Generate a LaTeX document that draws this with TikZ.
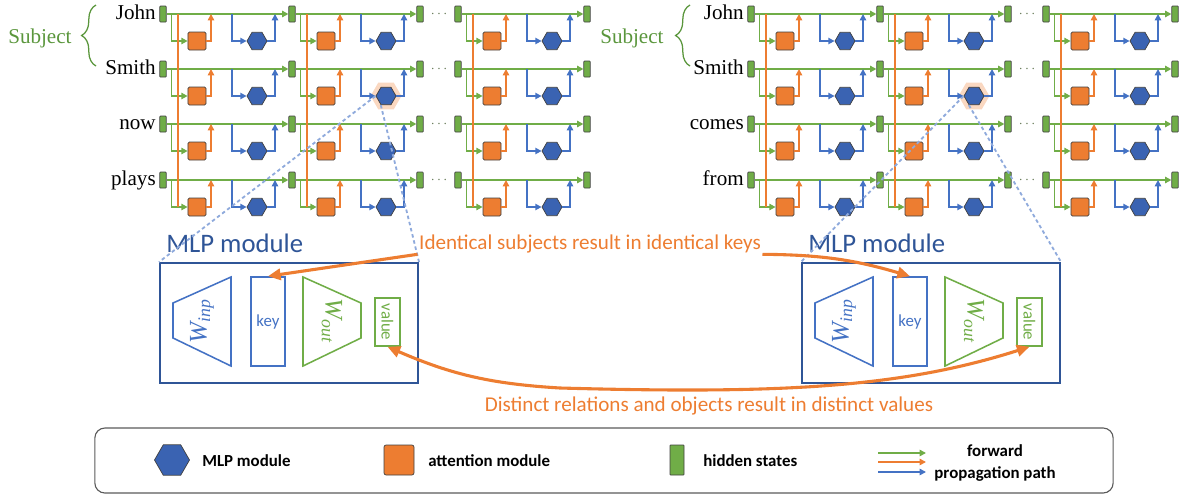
\documentclass[tikz,border=0pt]{standalone}
\usepackage{fontspec}
\setmainfont{Liberation Serif}
\newfontfamily\calibri{Carlito}
\usepackage{tikz}
\usetikzlibrary{arrows.meta}
\usetikzlibrary{calc}
\usetikzlibrary{shapes.geometric}
\usetikzlibrary{decorations.pathreplacing}
\usepackage{xcolor}
\definecolor{ColGreen}{RGB}{112,173,71}
\definecolor{ColOrange}{RGB}{237,125,49}
\definecolor{ColBlue}{RGB}{68,114,196}
\definecolor{ColNavy}{RGB}{47,85,151}
\definecolor{ColHex}{RGB}{58,99,178}
\definecolor{ColEdge}{RGB}{64,64,64}
\definecolor{ColDots}{RGB}{100,120,85}
\definecolor{ColSubject}{RGB}{90,150,60}
\definecolor{ColDotted}{RGB}{143,170,220}
\definecolor{ColLegend}{RGB}{90,90,90}
\tikzstyle{HiddenState}=[rectangle,draw=ColEdge,fill=ColGreen,minimum width=1.6mm,minimum height=4mm,inner sep=0pt,
rounded corners=0.5pt,line width=0.5pt]
\tikzstyle{AttnBox}=[rectangle,draw=ColEdge,fill=ColOrange,minimum size=4.5mm,inner sep=0pt,rounded corners=1pt,line width=0.5pt]
\tikzstyle{MlpHex}=[regular polygon,regular polygon sides=6,draw=ColEdge,fill=ColHex,minimum size=5mm,inner sep=0pt,line width=0.5pt]
\tikzstyle{GlowHex}=[regular polygon,regular polygon sides=6,fill=ColOrange!55,draw=ColOrange!30,line width=3pt,minimum size=6.5mm,inner sep=0pt]
\tikzstyle{GreenArrow}=[ColGreen,line width=1.1pt,-{Triangle[length=4.5pt,width=4.5pt]}]
\tikzstyle{OrangeArrow}=[ColOrange,line width=1.1pt,-{Triangle[length=4.5pt,width=4.5pt]}]
\tikzstyle{BlueArrow}=[ColBlue,line width=1.1pt,-{Triangle[length=4.5pt,width=4.5pt]}]
\tikzstyle{OrangeLine}=[ColOrange,line width=1.1pt]
\tikzstyle{Dots}=[ColDots,inner sep=0pt]
\tikzstyle{Token}=[anchor=base east,inner sep=0pt,font=\fontsize{15}{18}\selectfont]
\tikzstyle{SubjectText}=[anchor=base west,inner sep=0pt,ColSubject,font=\fontsize{15}{18}\selectfont]
\tikzstyle{SubjectBrace}=[ColSubject,line width=0.9pt,decorate,decoration={brace,amplitude=3.6mm}]
\tikzstyle{MlpTitle}=[anchor=base west,inner sep=0pt,ColNavy,font=\calibri\fontsize{19}{22}\selectfont]
\tikzstyle{MlpBox}=[rectangle,draw=ColNavy,line width=1.4pt,minimum width=6.45cm,minimum height=3cm,inner sep=0pt]
\tikzstyle{KeyBox}=[rectangle,draw=ColBlue,line width=1.1pt,minimum width=8.5mm,minimum height=22.25mm,inner sep=0pt,
text=ColBlue,font=\calibri\fontsize{12}{14}\selectfont]
\tikzstyle{ValueBox}=[rectangle,draw=ColGreen,line width=1.1pt,minimum width=6.25mm,minimum height=12mm,inner sep=0pt]
\tikzstyle{ValueText}=[rotate=-90,inner sep=0pt,text=ColGreen,font=\calibri\fontsize{12}{14}\selectfont]
\tikzstyle{BlueShape}=[ColBlue,line width=1.1pt]
\tikzstyle{GreenShape}=[ColGreen,line width=1.1pt]
\tikzstyle{WLabel}=[inner sep=0pt,font=\fontsize{18}{20}\selectfont\itshape]
\tikzstyle{DottedLink}=[ColDotted,line width=1.3pt,dash pattern=on 2.5pt off 2pt]
\tikzstyle{Note}=[inner sep=1pt,anchor=base,text=ColOrange,font=\calibri\fontsize{15}{18}\selectfont]
\tikzstyle{NoteArrow}=[ColOrange,line width=2.2pt,-{Triangle[length=9pt,width=8pt]}]
\tikzstyle{LegendBox}=[rectangle,draw=ColLegend,line width=0.8pt,rounded corners=2.5mm,minimum width=25.45cm,
minimum height=1.625cm,inner sep=0pt]
\tikzstyle{LegendText}=[anchor=base west,inner sep=0pt,font=\calibri\bfseries\fontsize{12}{16}\selectfont]
\begin{document}
\begin{tikzpicture}[x=0.025cm,y=-0.025cm]
    \useasboundingbox(0,0)rectangle(1185,495);
    \node[GlowHex](glowL)at(386,96){};
    \node[GlowHex](glowR)at(974,96){};
    \foreach \pn/\dx in {L/0,R/588}{
        \foreach \row/\yy in {1/14,2/69,3/124,4/180}{
            \foreach \lay/\xx in {1/163,2/292,3/420,4/458,5/587}{
                \node[HiddenState](h\pn\lay\row)at(\xx+\dx,\yy){};
            }
            \node[Dots](d\pn\row)at(439+\dx,\yy){$\cdots$};
        }
        \foreach \lay/\nxt in {1/2,2/3,4/5}{
            \foreach \row in {1,2,3,4}{
                \node[AttnBox](a\pn\lay\row)at($(h\pn\lay\row)+(34,27)$){};
                \node[MlpHex](m\pn\lay\row)at($(h\pn\lay\row)+(94,27)$){};
                \draw[GreenArrow](h\pn\lay\row)--(h\pn\nxt\row);
                \draw[GreenArrow]($(h\pn\lay\row)+(8.5,0)$)|-(a\pn\lay\row);
                \draw[OrangeArrow](a\pn\lay\row)-|($(h\pn\lay\row)+(48,0)$);
                \draw[BlueArrow]($(h\pn\lay\row)+(69,0)$)|-(m\pn\lay\row);
                \draw[BlueArrow](m\pn\lay\row)-|($(h\pn\lay\row)+(112,0)$);
            }
            \draw[OrangeLine]($(h\pn\lay1)+(15,0)$)--($(h\pn\lay4)+(15,27)$);
        }
    }
    \foreach \row/\yy/\tok in {1/14/John,2/69/Smith,3/124/now,4/180/plays}
        \node[Token](tL\row)at(156,\yy+5.5){\tok};
    \foreach \row/\yy/\tok in {1/14/John,2/69/Smith,3/124/comes,4/180/from}
        \node[Token](tR\row)at(744,\yy+5.5){\tok};
    \node[SubjectText](sL)at(8,43){Subject};
    \node[SubjectText](sR)at(600,43){Subject};
    \draw[SubjectBrace](96,66)--(96,5);
    \draw[SubjectBrace](690,66)--(690,5);
    \foreach \pn/\bx in {L/0,R/642}{
        \node[MlpTitle](title\pn)at(166+\bx,252){MLP module};
        \node[MlpBox](mlp\pn)at(289+\bx,323){};
        \draw[BlueShape](173+\bx,303)--(231+\bx,277)--(231+\bx,366)--(173+\bx,338)--cycle;
        \node[WLabel,ColBlue,rotate=90](win\pn)at(202+\bx,321){W\textsubscript{inp}};
        \node[KeyBox](key\pn)at(268+\bx,321.5){key};
        \draw[GreenShape](303+\bx,277)--(361+\bx,303)--(361+\bx,338)--(303+\bx,366)--cycle;
        \node[WLabel,ColGreen,rotate=-90](wout\pn)at(332+\bx,321){W\textsubscript{out}};
        \node[ValueBox](val\pn)at(387.5+\bx,322){};
        \node[ValueText](valt\pn)at(val\pn){value};
    }
    \draw[DottedLink](mL22.corner 3)--(mlpL.north west);
    \draw[DottedLink](mL22.corner 4)--(mlpL.north east);
    \draw[DottedLink](mR22.corner 3)--(mlpR.north west);
    \draw[DottedLink](mR22.corner 4)--(mlpR.north east);
    \node[Note](idkeys)at(590,249){Identical subjects result in identical keys};
    \node[Note](dvals)at(709,411){Distinct relations and objects result in distinct values};
    \coordinate(dsrc)at(560,388);
    \draw[NoteArrow](idkeys.south west)--(keyL.north);
    \draw[NoteArrow](idkeys.south east)to[bend left=8](keyR.north);
    \draw[NoteArrow](dsrc)to[bend left=10](valL.south);
    \draw[NoteArrow](dsrc).. controls (780,394) and (900,388) ..(valR.south);
    \node[LegendBox](legend)at(604,460.5){};
    \node[MlpHex,minimum size=8.75mm](lhex)at(172,460){};
    \node[LegendText](lt1)at(202,466){MLP module};
    \node[AttnBox,minimum size=7.5mm,rounded corners=1.5pt](latt)at(399,460){};
    \node[LegendText](lt2)at(428,466){attention module};
    \node[HiddenState,minimum width=3.5mm,minimum height=7.5mm](lhid)at(677,460){};
    \node[LegendText](lt3)at(703,466){hidden states};
    \coordinate(lg1)at(878,453);\coordinate(lg2)at(926,453);
    \coordinate(lg3)at(878,462);\coordinate(lg4)at(926,462);
    \coordinate(lg5)at(878,472);\coordinate(lg6)at(926,472);
    \draw[GreenArrow](lg1)--(lg2);
    \draw[OrangeArrow](lg3)--(lg4);
    \draw[BlueArrow](lg5)--(lg6);
    \node[LegendText,anchor=center,align=center](lt4)at(995,463){forward\\propagation path};
\end{tikzpicture}
\end{document}
